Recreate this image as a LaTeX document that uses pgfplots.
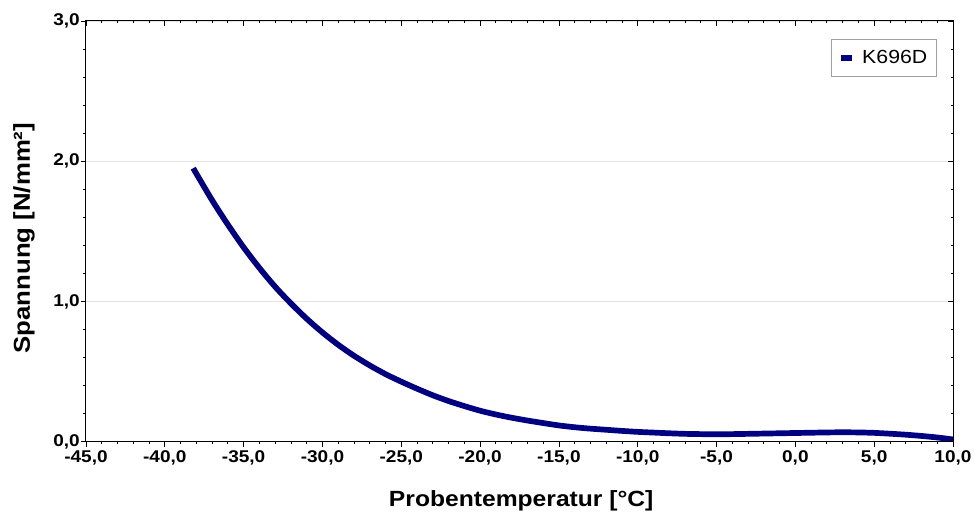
\documentclass[border=0pt]{standalone}
\usepackage{fontspec}
\setmainfont{Liberation Sans}[FakeStretch=1.12]
\usepackage{pgfplots}
\pgfplotsset{compat=1.18}
\definecolor{navyline}{RGB}{0,0,128}
\definecolor{gridgray}{RGB}{228,228,228}

\pgfplotsset{
  frame/.style={
    scale only axis, width=867pt, height=420.7pt,
    xmin=-45, xmax=10, ymin=0, ymax=3,
    xtick distance=5, ytick distance=1,
    minor x tick num=4, minor y tick num=4,
    major tick length=5pt, minor tick length=2.5pt,
    axis line style={line width=1pt},
    every tick/.style={black, line width=0.8pt},
  }
}

\begin{document}
\begin{tikzpicture}
\begin{axis}[
  frame,
  tick align=outside, xtick pos=left, ytick pos=left,
  ymajorgrids, grid style={gridgray, line width=0.8pt},
  /pgf/number format/fixed, /pgf/number format/fixed zerofill,
  /pgf/number format/precision=1, /pgf/number format/use comma,
  /pgf/number format/assume math mode=true,
  tick label style={font=\fontsize{17}{17}\selectfont\bfseries},
  yticklabel style={inner xsep=1pt},
  xlabel={Probentemperatur [°C]},
  ylabel={Spannung [N/mm²]},
  xlabel style={font=\fontsize{22}{22}\selectfont\bfseries,
    at={(axis description cs:0.502,-0.1545)}, anchor=base},
  ylabel style={font=\fontsize{23}{23}\selectfont\bfseries,
    at={(axis description cs:-0.0646,0.484)}, anchor=base},
  legend style={at={(1,1)}, anchor=north east, xshift=-16.3pt, yshift=-18.3pt,
    draw=gray!75, line width=0.8pt, font=\fontsize{19}{19}\selectfont,
    inner xsep=7pt, inner ysep=8.8pt},
  legend image code/.code={
    \draw[line width=5.5pt] (0pt,0pt) -- (11.7pt,0pt);
    \path (16.7pt,0pt);},
]
\addplot[navyline, line width=5.7pt, smooth] coordinates {
  (-38.2,1.950) (-37,1.722) (-36,1.548) (-35,1.386) (-34,1.239)
  (-33,1.105) (-32,0.986) (-31,0.877) (-30,0.779) (-29,0.691)
  (-28,0.613) (-27,0.544) (-26,0.482) (-25,0.428) (-24,0.378)
  (-23,0.331) (-22,0.290) (-21,0.254) (-20,0.221) (-19,0.194)
  (-18,0.171) (-17,0.151) (-16,0.133) (-15,0.116) (-14,0.103)
  (-13,0.093) (-12,0.085) (-11,0.077) (-10,0.070) (-9,0.065)
  (-8,0.060) (-7,0.056) (-6,0.054) (-5,0.053) (-4,0.054)
  (-3,0.056) (-2,0.058) (-1,0.060) (0,0.062) (1,0.064)
  (2,0.066) (3,0.067) (4,0.066) (5,0.063) (6,0.057)
  (7,0.050) (8,0.041) (9,0.030) (10,0.016)
};
\addlegendentry{K696D}
\end{axis}
\begin{axis}[
  frame,
  tick align=inside, xtick pos=right, ytick pos=right,
  xticklabels={}, yticklabels={},
]
\end{axis}
\pgfresetboundingbox
\path[use as bounding box] ([shift={(-86pt,-71.3pt)}]current axis.south west)
  rectangle ([shift={(21pt,21pt)}]current axis.north east);
\end{tikzpicture}
\end{document}
